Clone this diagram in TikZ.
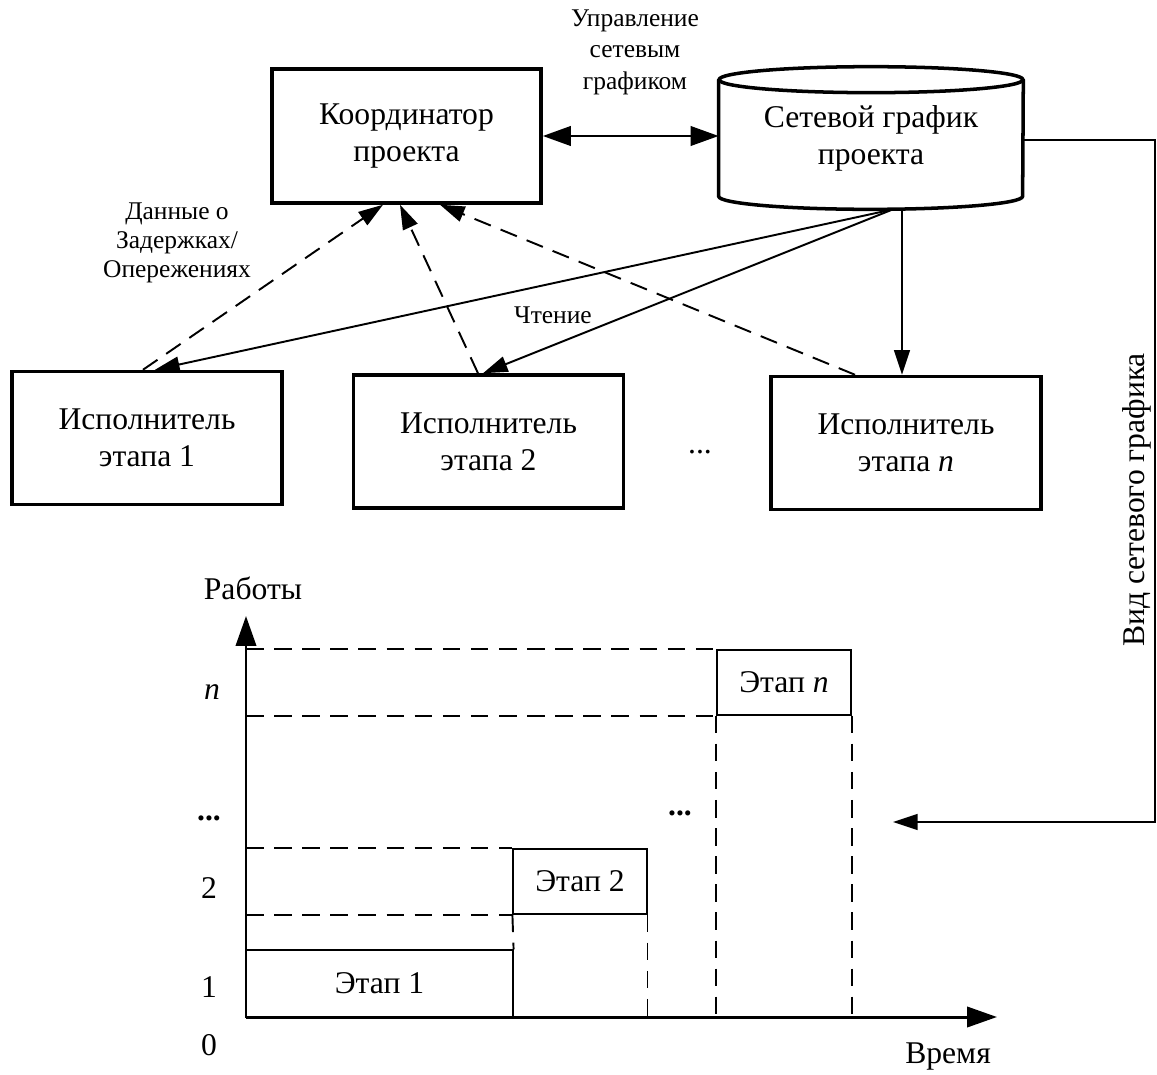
\documentclass[tikz,border=0pt]{standalone}
\usepackage{fontspec}
\setmainfont{Liberation Serif}
\usetikzlibrary{arrows.meta, positioning, calc}

\begin{document}
\begin{tikzpicture}[x=0.02cm, y=-0.02cm,
    font=\fontsize{18}{21}\selectfont,
    blk/.style={draw, line width=2pt, align=center, minimum width=5.4cm, minimum height=2.66cm},
    arr/.style={line width=1.1pt, -{Triangle[length=14pt, width=9pt]}},
    darr/.style={arr, dash pattern=on 10pt off 6pt},
    sml/.style={font=\fontsize{14.5}{17.9}\selectfont, align=center},
    axis/.style={line width=1.7pt, -{Triangle[length=17pt, width=11.5pt]}},
    stg/.style={draw, line width=0.7pt, minimum width=2.68cm, minimum height=1.3cm},
    grd/.style={line width=1.1pt, dash pattern=on 10pt off 6pt}]
\useasboundingbox (0,0) rectangle (1157,1075);
% Coordinator and network schedule
\node[blk, minimum width=5.38cm, minimum height=2.68cm] (coord) at (406.5,136) {Координатор\\проекта};
\node[align=center, minimum width=6.08cm, minimum height=2.84cm, inner sep=0pt] (graf) at (871,138) {Сетевой график\\проекта};
\draw[line width=2pt] ($(graf.north west)+(0,13)$) -- ($(graf.south west)+(0,-13)$)
    arc[start angle=180, end angle=360, x radius=3.04cm, y radius=0.26cm] -- ($(graf.north east)+(0,13)$);
\draw[line width=2pt] ($(graf.north)+(0,13)$) ellipse [x radius=3.04cm, y radius=0.26cm];
\draw[line width=1.7pt, {Triangle[length=16pt, width=11pt]}-{Triangle[length=16pt, width=11pt]}] (coord.east) -- (coord.east -| graf.west);
\node[sml] at (635,52) {Управление\\сетевым\\графиком};
% Executors
\node[blk] (ex1) at (147,438) {Исполнитель\\этапа 1};
\node[blk] (ex2) at (488.5,441.5) {Исполнитель\\этапа 2};
\node[blk] (exn) at (906,443) {Исполнитель\\этапа \textit{n}};
\node (dots) at (700,452) {...};
% Reading
\coordinate (gf) at ($(graf.south)+(22,0)$);
\coordinate (gv) at ($(graf.south)+(31,0)$);
\draw[arr] (gf) -- ($(ex1.north)+(8,0)$);
\draw[arr] (gf) -- ($(ex2.north)+(-5.5,0)$);
\draw[arr] (gv) -- (gv |- exn.north);
\node[sml] at (553,315) {Чтение};
% Delays / advances
\draw[darr] ($(ex1.north)+(-4,0)$) -- ($(coord.south)+(-23.5,0)$);
\draw[darr] ($(ex2.north)+(-10.5,0)$) -- ($(coord.south)+(-6.5,0)$);
\draw[darr] ($(exn.north)+(-51,0)$) -- ($(coord.south)+(33.5,0)$);
\node[sml, font=\fontsize{14.5}{16.3}\selectfont] at (177,243) {Данные о\\Задержках/\\Опережениях};
% View of the schedule
\coordinate (rt) at (1155,140);
\coordinate (rb) at (1155,822);
\coordinate (cin) at (893,822);
\draw[arr] (graf.east |- rt) -- (rt) -- (rb) -- (cin);
\node[rotate=90] at (1137,500) {Вид сетевого графика};
% Chart
\coordinate (O) at (246,1017);
\coordinate (ytip) at (246,616);
\coordinate (xtip) at (997,1017);
\node[stg, minimum width=5.34cm, minimum height=1.34cm] (st1) at (379.5,983.5) {Этап 1};
\node[stg] (st2) at (580,881.5) {Этап 2};
\node[stg] (stn) at (784,682.5) {Этап \textit{n}};
\draw[grd] (O |- stn.north) -- (stn.north west);
\draw[grd] (O |- stn.south) -- (stn.south west);
\draw[grd] (O |- st2.north) -- (st2.north west);
\draw[grd] (O |- st2.south) -- (st2.south west);
\draw[grd] (st2.south west) -- (st1.north east);
\draw[line width=0.7pt, dash pattern=on 10pt off 6pt] (st2.south east) -- (st2.south east |- O);
\draw[grd] (stn.south west) -- (stn.south west |- O);
\draw[grd] (stn.south east) -- (stn.south east |- O);
\draw[axis] (O) -- (ytip);
\draw[axis] (O) -- (xtip);
\node at (253,588) {Работы};
\node[anchor=east] at (997,1057) {Время};
\node at (212,692) {\textit{n}};
\node at (209,818) {\textbf{...}};
\node at (209,888) {2};
\node at (209,987) {1};
\node at (209,1045) {0};
\node at (680,813) {\textbf{...}};
\end{tikzpicture}
\end{document}
